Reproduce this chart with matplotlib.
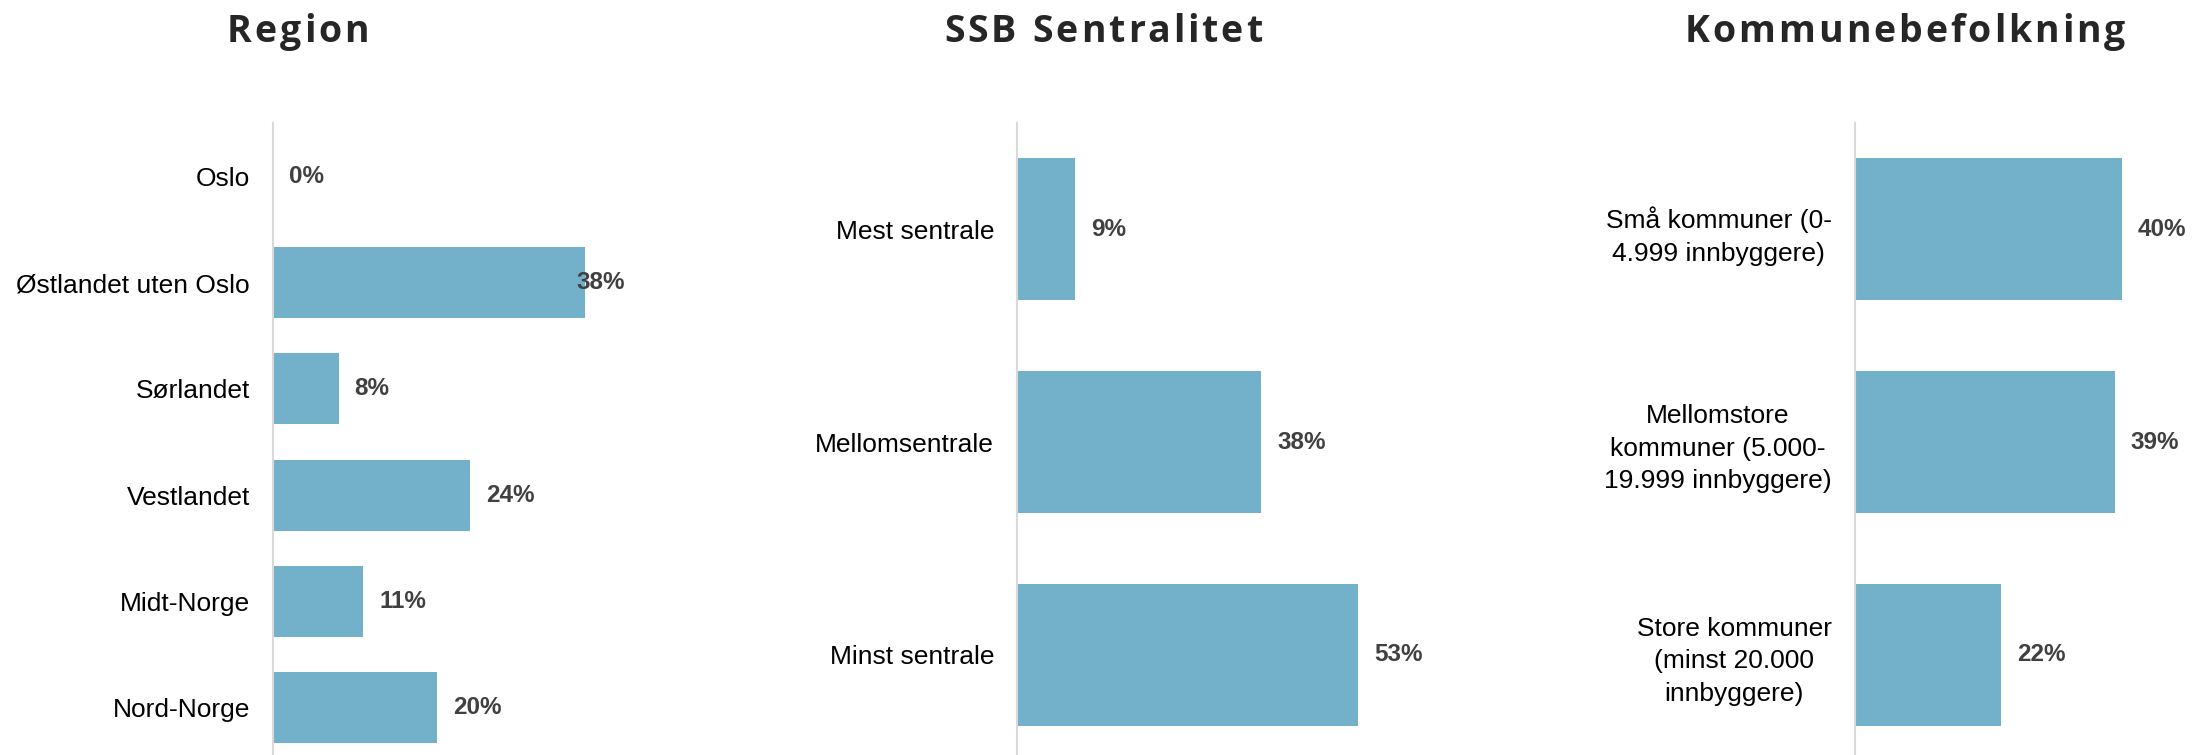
import matplotlib.pyplot as plt
from matplotlib.font_manager import FontProperties

# Andel kommuner fordelt på region, sentralitet og kommunestørrelse (prosent)
region_labels = ["Oslo", "Østlandet uten Oslo", "Sørlandet", "Vestlandet", "Midt-Norge", "Nord-Norge"]
region_values = [0, 38, 8, 24, 11, 20]

sentralitet_labels = ["Mest sentrale", "Mellomsentrale", "Minst sentrale"]
sentralitet_values = [9, 38, 53]

befolkning_labels = [
    "Små kommuner (0-\n4.999 innbyggere)",
    "Mellomstore\nkommuner (5.000-\n19.999 innbyggere)",
    "Store kommuner\n(minst 20.000\ninnbyggere)",
]
befolkning_values = [40, 39, 22]

titles = ["Region", "SSB Sentralitet", "Kommunebefolkning"]

BAR_COLOR = "#72B1C9"
LABEL_COLOR = "#404040"
TITLE_COLOR = "#262626"
AXIS_COLOR = "#D9D9D9"

W, H = 2193, 755
DPI = 100
fig = plt.figure(figsize=(W / DPI, H / DPI), dpi=DPI)
plt.rcParams["font.family"] = ["Liberation Sans", "DejaVu Sans"]


def px_axes(left, right, top=123, bottom=761):
    """Axes placed in pixel coordinates measured from the top-left corner."""
    return fig.add_axes([left / W, 1 - bottom / H, (right - left) / W, (bottom - top) / H])


def spaced_title(text, cx, baseline, tracking):
    """Draw a letter-spaced bold title centred on cx (pixels)."""
    renderer = fig.canvas.get_renderer()
    fp = FontProperties(family="Open Sans", weight="bold", size=27)

    def width(s):
        if not s.strip():
            return 0.0
        w, _, _ = renderer.get_text_width_height_descent(s, fp, ismath=False)
        return w

    total = width(text) + tracking * (len(text) - 1)
    x0 = cx - total / 2
    for k, ch in enumerate(text):
        if ch == " ":
            continue
        left = width(text[: k + 1]) - width(ch) + tracking * k
        fig.text((x0 + left) / W, 1 - baseline / H, ch, fontproperties=fp,
                 color=TITLE_COLOR, ha="left", va="baseline")


panels = [
    (region_labels, region_values, 273, 625, 42.9, 298),
    (sentralitet_labels, sentralitet_values, 1017, 1430, 64.2, 1103),
    (befolkning_labels, befolkning_values, 1854.5, 2193, 50.7, 1905),
]

value_texts = []
for labels, values, left, right, xmax, _ in panels:
    ax = px_axes(left, right)
    n = len(values)
    ax.barh(range(n), values, height=2 / 3, color=BAR_COLOR)
    ax.set_ylim(n - 0.5, -0.5)
    ax.set_xlim(0, xmax)
    for side in ["top", "right", "bottom"]:
        ax.spines[side].set_visible(False)
    ax.spines["left"].set_color(AXIS_COLOR)
    ax.spines["left"].set_linewidth(1.5)
    ax.set_xticks([])
    ax.set_yticks(range(n))
    ax.set_yticklabels(labels, fontsize=19, color="black", multialignment="center", linespacing=1.45)
    ax.tick_params(axis="y", length=0, pad=16.5)
    for i, v in enumerate(values):
        t = ax.annotate(f"{v}%", xy=(v, i), xytext=(11.5, 0), textcoords="offset points",
                        ha="left", va="center", fontsize=17.5, fontweight="bold",
                        color=LABEL_COLOR)
        value_texts.append((ax, t))

# keep value labels inside the plot area, as the original chart tool does
fig.canvas.draw()
renderer = fig.canvas.get_renderer()
for ax, t in value_texts:
    over = t.get_window_extent(renderer).x1 - ax.get_window_extent(renderer).x1
    if over > 0:
        t.set_position((11.5 - over * 72 / DPI, 0))

for title, (_, _, _, _, _, cx) in zip(titles, panels):
    spaced_title(title, cx, 41.7, 3)

fig.savefig("out.png", dpi=DPI)
